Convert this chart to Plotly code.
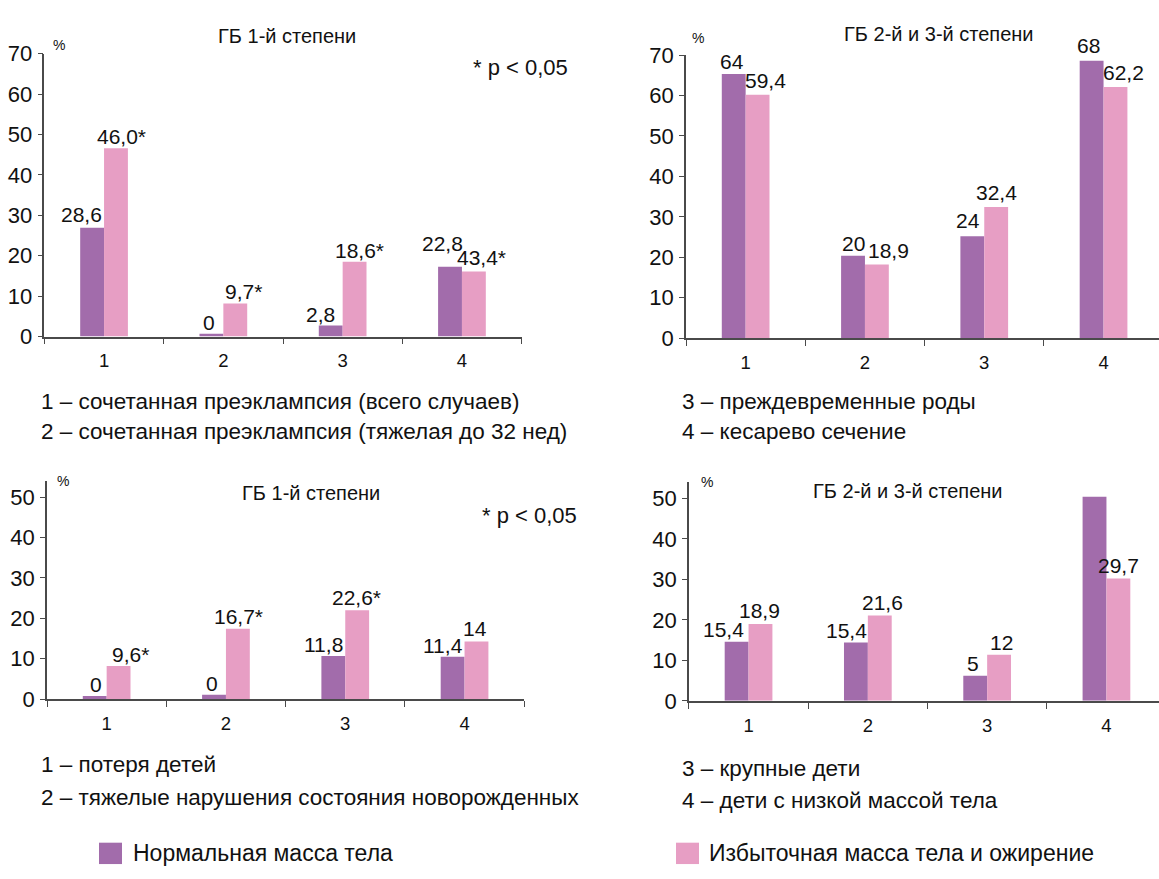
import plotly.graph_objects as go

# ---------------- data ----------------
categories = ["1", "2", "3", "4"]
series_names = ["Нормальная масса тела", "Избыточная масса тела и ожирение"]

# Panel 1: ГБ 1-й степени (maternal outcomes)
p1_normal = [26.9, 0.7, 2.7, 17.3]
p1_excess = [46.6, 8.2, 18.5, 16.1]
p1_normal_labels = ["28,6", "0", "2,8", "22,8"]
p1_excess_labels = ["46,0*", "9,7*", "18,6*", "43,4*"]

# Panel 2: ГБ 2-й и 3-й степени (maternal outcomes)
p2_normal = [65.3, 20.4, 25.2, 68.6]
p2_excess = [60.2, 18.2, 32.4, 62.1]
p2_normal_labels = ["64", "20", "24", "68"]
p2_excess_labels = ["59,4", "18,9", "32,4", "62,2"]

# Panel 3: ГБ 1-й степени (neonatal outcomes)
p3_normal = [0.8, 1.1, 10.7, 10.5]
p3_excess = [8.2, 17.4, 22.0, 14.3]
p3_normal_labels = ["0", "0", "11,8", "11,4"]
p3_excess_labels = ["9,6*", "16,7*", "22,6*", "14"]

# Panel 4: ГБ 2-й и 3-й степени (neonatal outcomes)
p4_normal = [14.6, 14.4, 6.2, 50.4]
p4_excess = [19.0, 21.1, 11.4, 30.2]
p4_normal_labels = ["15,4", "15,4", "5", ""]
p4_excess_labels = ["18,9", "21,6", "12", "29,7"]

titles = ["ГБ 1-й степени", "ГБ 2-й и 3-й степени", "ГБ 1-й степени", "ГБ 2-й и 3-й степени"]
top_ticks = [0, 10, 20, 30, 40, 50, 60, 70]
bottom_ticks = [0, 10, 20, 30, 40, 50]
note_text = "* p < 0,05"
desc_top_left = ["1 – сочетанная преэклампсия (всего случаев)",
                 "2 – сочетанная преэклампсия (тяжелая до 32 нед)"]
desc_top_right = ["3 – преждевременные роды", "4 – кесарево сечение"]
desc_bottom_left = ["1 – потеря детей", "2 – тяжелые нарушения состояния новорожденных"]
desc_bottom_right = ["3 – крупные дети", "4 – дети с низкой массой тела"]

# ---------------- style ----------------
W, H = 1159, 879
PURPLE = "#A26CAB"
PINK = "#E79EC4"
AXIS = "#4a4a4a"
FONT = "Liberation Sans, Arial, Helvetica, sans-serif"
TXT = "#111111"


def px(x):
    return x / W


def py(y):
    return 1 - y / H


# label placement (pixel offsets of each value label from its category centre / bar top)
p1_dx = ([-23, -14, -22, -19], [17, 20, 17, 20])
p1_dy = ([2, 0, 0, 12], [0, 0, 0, 2])
p2_dx = ([-14, -11, -16, -15], [20, 24, 12, 20])
p2_dy = ([1, 1, 4, 4], [3, 3, 3, 3])
p3_dx = ([-11, -14, -22, -22], [24, 13, 11, 10])
p3_dy = ([0, 0, 0, 0], [0, 1, 1, 1])
p4_dx = ([-25, -21, -14, 0], [11, 15, 14, 12])
p4_dy = ([1, 1, 1, 0], [2, 1, 1, 2])

CAT_W = 119.3  # pixel width of one category slot

panels = [
    dict(n=p1_normal, e=p1_excess, nl=p1_normal_labels, el=p1_excess_labels, dx=p1_dx, dy=p1_dy,
         x0=44.4, yd=[py(334), py(43)], yr=[0, 70], ticks=top_ticks),
    dict(n=p2_normal, e=p2_excess, nl=p2_normal_labels, el=p2_excess_labels, dx=p2_dx, dy=p2_dy,
         x0=686.0, yd=[py(335.7), py(44.3)], yr=[0, 70], ticks=top_ticks),
    dict(n=p3_normal, e=p3_excess, nl=p3_normal_labels, el=p3_excess_labels, dx=p3_dx, dy=p3_dy,
         x0=47.0, yd=[py(707.3), py(482.7)], yr=[0, 54], ticks=bottom_ticks),
    dict(n=p4_normal, e=p4_excess, nl=p4_normal_labels, el=p4_excess_labels, dx=p4_dx, dy=p4_dy,
         x0=688.9, yd=[py(709), py(484)], yr=[0, 54], ticks=bottom_ticks),
]

fig = go.Figure()
layout = dict(
    width=W, height=H, margin=dict(l=0, r=0, t=0, b=0),
    paper_bgcolor="white", plot_bgcolor="white",
    barmode="group", bargap=0.6, bargroupgap=0.0,
    showlegend=False, font=dict(family=FONT, color=TXT),
)

ann = []

for i, p in enumerate(panels):
    s = "" if i == 0 else str(i + 1)
    x_end = min(p["x0"] + 4 * CAT_W, W)
    n_visible = (x_end - p["x0"]) / CAT_W
    for k, (vals, labels, color, name) in enumerate(((p["n"], p["nl"], PURPLE, series_names[0]),
                                                     (p["e"], p["el"], PINK, series_names[1]))):
        fig.add_trace(go.Bar(
            x=categories, y=vals, name=name,
            marker=dict(color=color, line=dict(width=0)),
            xaxis="x" + s, yaxis="y" + s, hoverinfo="x+y+name",
        ))
        for j, (v, lab) in enumerate(zip(vals, labels)):
            if not lab:
                continue
            # x given as category index (position on the category axis)
            ann.append(dict(
                x=j, y=v, xref="x" + s, yref="y" + s, text=lab, showarrow=False,
                xanchor="center", yanchor="bottom",
                xshift=p["dx"][k][j], yshift=p["dy"][k][j] - 2,
                font=dict(family=FONT, size=21, color=TXT),
            ))
    layout["xaxis" + s] = dict(
        domain=[px(p["x0"]), px(x_end)], anchor="y" + s, type="category",
        range=[-0.5, -0.5 + n_visible],
        showline=True, linecolor=AXIS, linewidth=1.5, ticks="outside",
        tickson="boundaries", ticklen=6, tickcolor=AXIS, tickwidth=1.2,
        tickfont=dict(family=FONT, size=18.5, color=TXT), ticklabelstandoff=7,
        showgrid=False, zeroline=False, fixedrange=True,
    )
    layout["yaxis" + s] = dict(
        domain=p["yd"], anchor="x" + s, range=p["yr"], tickvals=p["ticks"],
        showline=True, linecolor=AXIS, linewidth=1.5, ticks="outside",
        ticklen=5, tickcolor=AXIS, tickwidth=1.2,
        tickfont=dict(family=FONT, size=22, color=TXT), ticklabelstandoff=1,
        showgrid=False, zeroline=False, fixedrange=True,
    )

fig.update_layout(**layout)


def add_text(x, y, text, size, xanchor="left"):
    ann.append(dict(x=px(x), y=py(y), xref="paper", yref="paper", text=text,
                    showarrow=False, xanchor=xanchor, yanchor="middle",
                    font=dict(family=FONT, size=size, color=TXT)))


# titles
add_text(287, 25, titles[0], 20, "center")
add_text(939, 23, titles[1], 20, "center")
add_text(311, 495, titles[2], 20, "center")
add_text(908, 493, titles[3], 20, "center")
# percent signs
add_text(59, 34, "%", 14, "center")
add_text(698, 27, "%", 14, "center")
add_text(63, 483, "%", 14, "center")
add_text(707, 484, "%", 14, "center")
# significance notes
add_text(471, 57, note_text, 22)
add_text(480, 518, note_text, 22)
# category descriptions
add_text(39, 401, desc_top_left[0], 22.5)
add_text(39, 432, desc_top_left[1], 22.5)
add_text(680, 401, desc_top_right[0], 22.5)
add_text(680, 432, desc_top_right[1], 22.5)
add_text(39, 775, desc_bottom_left[0], 22.5)
add_text(39, 809, desc_bottom_left[1], 22.5)
add_text(680, 779, desc_bottom_right[0], 22.5)
add_text(680, 812, desc_bottom_right[1], 22.5)
# legend
add_text(131, 866, series_names[0], 23)
add_text(707, 866, series_names[1], 23)

shapes = [
    dict(type="rect", xref="paper", yref="paper", x0=px(99), x1=px(122),
         y0=py(877), y1=py(855), fillcolor=PURPLE, line=dict(width=0)),
    dict(type="rect", xref="paper", yref="paper", x0=px(676), x1=px(699),
         y0=py(877), y1=py(855), fillcolor=PINK, line=dict(width=0)),
]

fig.update_layout(annotations=ann, shapes=shapes)

fig.write_html("out.html", config={"displayModeBar": False},
               post_script="document.body.style.margin='0';")
